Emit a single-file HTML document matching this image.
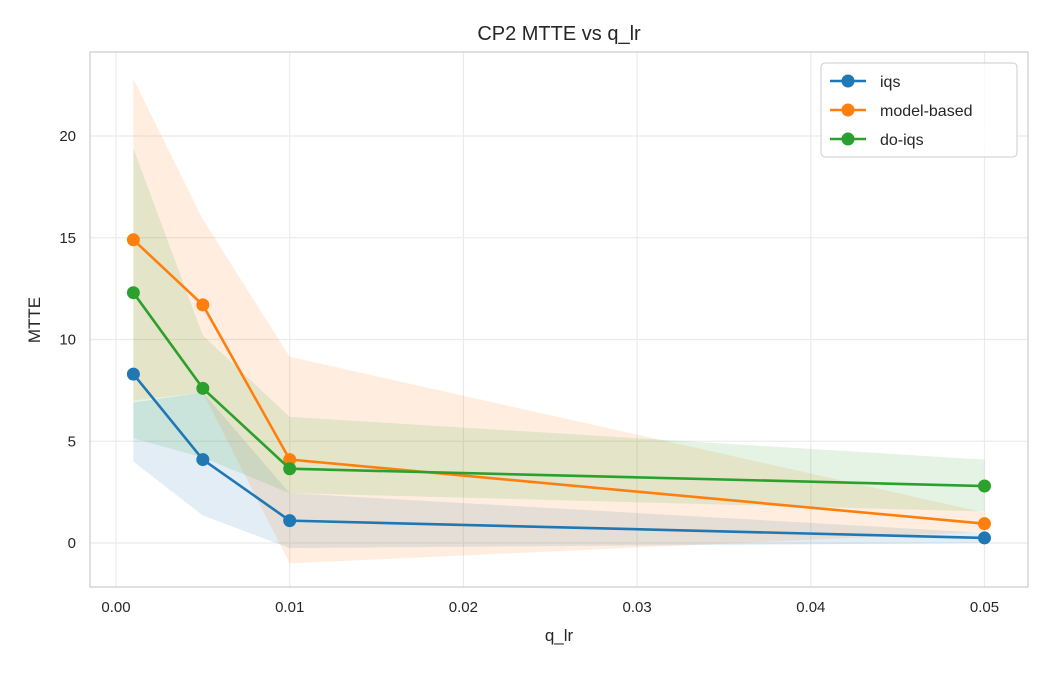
<!DOCTYPE html>
<html><head><meta charset="utf-8">
<style>
body{margin:0;background:#fff;font-family:"Liberation Sans",sans-serif;}
svg text{font-family:"Liberation Sans",sans-serif;fill:#262626;}
</style></head>
<body>
<svg id="chart" width="1050" height="675" xmlns="http://www.w3.org/2000/svg">
<rect width="1050" height="675" fill="#fff"/>
<text x="559" y="40" font-size="20" text-anchor="middle">CP2 MTTE vs q_lr</text>
<g id="grid"></g>
<g id="bands"></g>
<g id="lines"></g>
<rect x="90" y="52" width="938" height="535" fill="none" stroke="#ccc" stroke-width="1.2"/>
<g id="ticks"></g>
<text x="559" y="641" font-size="17" text-anchor="middle">q_lr</text>
<text transform="translate(40,320) rotate(-90)" font-size="17" text-anchor="middle">MTTE</text>
<g id="legend"></g>
</svg>
<script>
const xs=[0.001,0.005,0.01,0.05];
const seriesNames=["iqs","model-based","do-iqs"];
const iqsMean=[8.3,4.1,1.1,0.25];
const iqsLow=[4.0,1.35,-0.25,0.0];
const iqsHigh=[6.9,7.4,2.45,0.5];
const mbMean=[14.9,11.7,4.1,0.95];
const mbLow=[7.0,7.4,-1.0,0.55];
const mbHigh=[22.8,15.9,9.15,1.5];
const doMean=[12.3,7.6,3.65,2.8];
const doLow=[5.15,4.2,2.45,1.55];
const doHigh=[19.4,10.2,6.2,4.1];
const xTicks=[0,0.01,0.02,0.03,0.04,0.05];
const xTickLabels=["0.00","0.01","0.02","0.03","0.04","0.05"];
const yTicks=[0,5,10,15,20];
const colors=["#1f77b4","#ff7f0e","#2ca02c"];
const ns="http://www.w3.org/2000/svg";
function X(v){return 116+v*17370;}
function Y(v){return 543-v*20.35;}
function mk(tag,attrs,parent){const e=document.createElementNS(ns,tag);for(const k in attrs)e.setAttribute(k,attrs[k]);document.getElementById(parent).appendChild(e);return e;}
xTicks.forEach((t,i)=>{
  const g=mk("line",{x1:X(t),x2:X(t),y1:52,y2:587,stroke:"#ebebeb","stroke-width":1.2},"grid");
  
  
  const l=mk("text",{x:X(t),y:612,"font-size":15,"text-anchor":"middle"},"ticks");
  l.textContent=xTickLabels[i];
  
  
});
yTicks.forEach(t=>{
  const g=mk("line",{x1:90,x2:1028,y1:Y(t),y2:Y(t),stroke:"#ebebeb","stroke-width":1.2},"grid");
  
  
  const l=mk("text",{x:76,y:Y(t)+5,"font-size":15,"text-anchor":"end"},"ticks");
  l.textContent=String(t);
  
  
});
const all=[[iqsMean,iqsLow,iqsHigh],[mbMean,mbLow,mbHigh],[doMean,doLow,doHigh]];
const keys=["iqs","model-based","do-iqs"];
all.forEach((s,k)=>{
  const [m,lo,hi]=s;
  let pts=xs.map((x,i)=>X(x)+","+Y(hi[i]));
  pts=pts.concat(xs.map((x,i)=>X(x)+","+Y(lo[i])).reverse());
  const b=mk("polygon",{points:pts.join(" "),fill:colors[k],"fill-opacity":0.13},"bands");
  
  
});
all.forEach((s,k)=>{
  const m=s[0];
  const p=mk("polyline",{points:xs.map((x,i)=>X(x)+","+Y(m[i])).join(" "),fill:"none",stroke:colors[k],"stroke-width":2.6},"lines");
  
  
  xs.forEach((x,i)=>{
    const c=mk("circle",{cx:X(x),cy:Y(m[i]),r:6.5,fill:colors[k]},"lines");
    
    
  });
});
const lb=mk("rect",{x:821,y:63,width:196,height:94,rx:4,fill:"#fff","fill-opacity":0.85,stroke:"#ccc"},"legend");


seriesNames.forEach((n,k)=>{
  const y=81+k*29;
  const l=mk("line",{x1:830,x2:866,y1:y,y2:y,stroke:colors[k],"stroke-width":2.6},"legend");
  
  
  const c=mk("circle",{cx:848,cy:y,r:6.5,fill:colors[k]},"legend");
  
  
  const t=mk("text",{x:880,y:y+6,"font-size":16},"legend");
  t.textContent=n;
  
  
});
</script>
</body></html>
